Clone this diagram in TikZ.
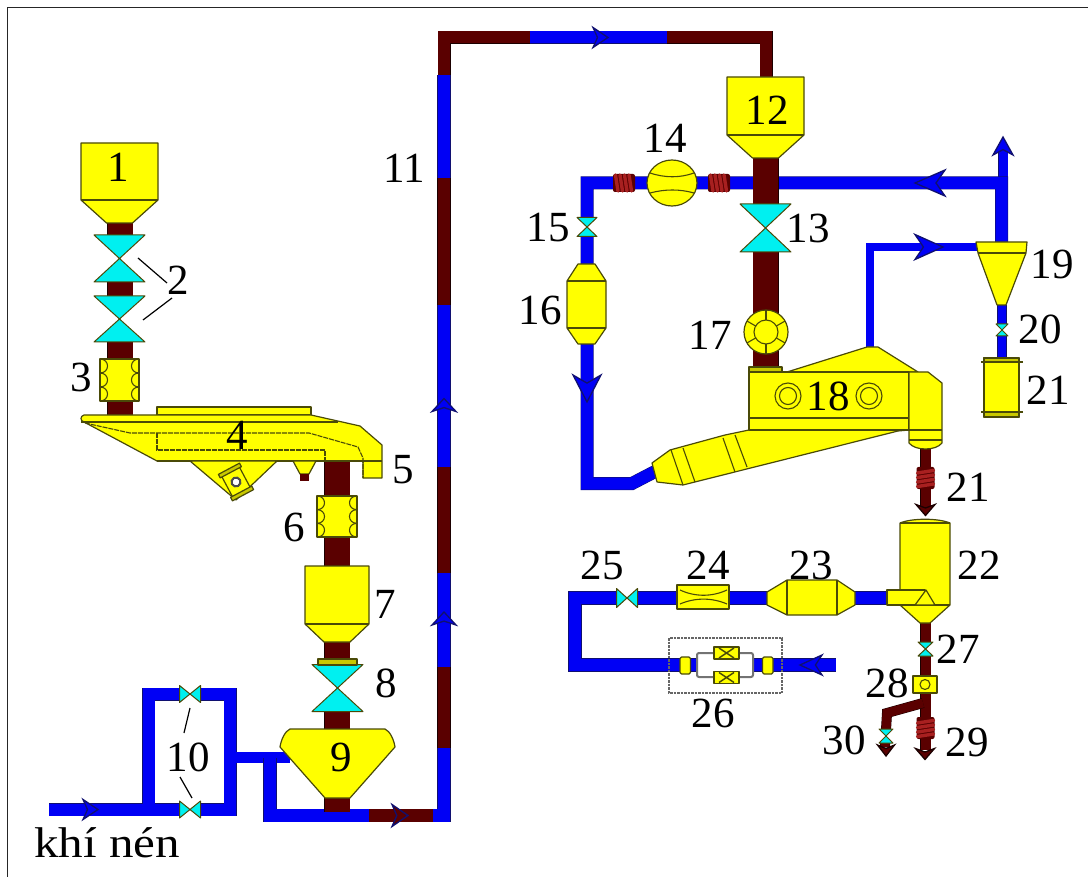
\documentclass[tikz,border=0pt]{standalone}
\usepackage{fontspec}
\setmainfont{Liberation Serif}
\newfontfamily\widefont[FakeStretch=1.14]{Liberation Serif}
\definecolor{eqfill}{HTML}{FFFF00}
\definecolor{eqedge}{HTML}{4A4A08}
\definecolor{eqband}{HTML}{C8C800}
\definecolor{valvefill}{HTML}{00F0F0}
\definecolor{airblue}{HTML}{0000F5}
\definecolor{airedge}{HTML}{101070}
\definecolor{feedred}{HTML}{5A0000}
\definecolor{coilred}{HTML}{A82020}
\tikzset{
  airline/.style={draw=airedge,double=airblue,double distance=#1,line width=.5pt},
  feedline/.style={draw=black!70!feedred,double=feedred,double distance=#1,line width=.5pt},
  equip/.style={draw=eqedge,fill=eqfill,line width=1.2pt,line join=round},
  equipline/.style={draw=eqedge,line width=1.1pt},
  valveshape/.style={draw=eqedge,fill=valvefill,line width=1pt,line join=round},
  flowshape/.style={draw=airedge,line width=1.3pt,line join=miter},
  leader/.style={draw=black,line width=1.2pt},
  numlabel/.style={inner sep=0pt,font=\fontsize{43}{46}\selectfont}
}
% hopper: left, right, top, band, bottom, neck half width
\newcommand{\hopperbox}[6]{
  \draw[equip] (#1,#3) -- (#2,#3) -- (#2,#4) -- ({(#1+#2)/2+#6},#5) -- ({(#1+#2)/2-#6},#5) -- (#1,#4) -- cycle;
  \draw[equipline] (#1,#4) -- (#2,#4);
}
% valves: x, y, half width, half height
\newcommand{\gatevalve}[4]{
  \fill[white] (#1-#3,#2-#4) rectangle (#1+#3,#2+#4);
  \draw[valveshape] (#1-#3,#2-#4) -- (#1+#3,#2-#4) -- (#1-#3,#2+#4) -- (#1+#3,#2+#4) -- cycle;
}
\newcommand{\bowvalve}[4]{
  \fill[white] (#1-#3,#2-#4) rectangle (#1+#3,#2+#4);
  \draw[valveshape] (#1-#3,#2-#4) -- (#1-#3,#2+#4) -- (#1+#3,#2-#4) -- (#1+#3,#2+#4) -- cycle;
}
% flexible joint: left, right, top, bottom
\newcommand{\flexjoint}[4]{
  \draw[equip] (#1,#3) rectangle (#2,#4);
  \pgfmathsetmacro\scallop{(#4-#3)/3}
  \foreach \k in {0,1,2}{
    \draw[equipline] (#1,#3+\k*\scallop) .. controls (#1+10,#3+\k*\scallop) and (#1+10,#3+\k*\scallop+\scallop) .. (#1,#3+\k*\scallop+\scallop);
    \draw[equipline] (#2,#3+\k*\scallop) .. controls (#2-10,#3+\k*\scallop) and (#2-10,#3+\k*\scallop+\scallop) .. (#2,#3+\k*\scallop+\scallop);
  }
}
% coil on a pipe: x, y, angle
\newcommand{\coilmark}[3]{
  \begin{scope}[shift={(#1,#2)},rotate=#3]
    \fill[feedred,rounded corners=2pt] (-11,-9) rectangle (11,9);
    \foreach \k in {-8.5,-4,0.5,5}
      \draw[coilred,line width=3.4pt,line cap=round] (\k,-8) -- (\k+2.5,8);
  \end{scope}
}
\begin{document}
\begin{tikzpicture}[x=1pt,y=-1pt]
\useasboundingbox (0,0) rectangle (1088,877);
% junction points of the pipe runs
\foreach \name/\x/\y in {
  feedA/120/220, feedB/120/415, feedC/337/455, feedD/337/570, feedE/337/640, feedF/337/812,
  inlet/49/809.5, loopA/230/809.5, loopB/230/694, loopC/148.5/694, loopD/148.5/809.5,
  sideA/230/757.5, sideB/290/757.5, liftA/270/757.5, liftB/270/815.5, liftC/369/815.5,
  liftD/433/815.5, liftE/444/815.5, liftF/444/748, liftG/444/667, liftH/444/573,
  liftI/444/467, liftJ/444/305, liftK/444/178, liftL/444/75, liftM/444/37.5,
  liftN/530/37.5, liftO/667/37.5, liftP/766/37.5, liftQ/766/80,
  backA/1001.5/242, backB/1001.5/183, backC/587/183, backD/587/483.5, backE/632/483.5, backF/656/471,
  ventA/1003/185, ventB/1003/150, millA/765.5/155, millB/765.5/367,
  gasA/870/347, gasB/870/247, gasC/977/247, dropA/1002/305, dropB/1002/358,
  oreA/925.5/448, oreB/925.5/507, prodA/925.5/620, prodB/925.5/750,
  forkA/923/703, forkB/887/713, forkC/885/747,
  exitA/887/598, exitB/575/598, exitC/575/665, exitD/697/665, exitE/753/665, exitF/836/665,
  leadA/138/258, leadB/167/283, leadC/172/298, leadD/143/320,
  leadE/190/708, leadF/184/733, leadG/180/777, leadH/192/798
}
  \coordinate (\name) at (\x,\y);
% sheet edge
\draw[black!85,line width=1.2pt] (7.5,877) -- (7.5,7.5) -- (1088,7.5);
% compressed air and lift pipe
\draw[airline=12pt] (inlet) -- (loopA) -- (loopB) -- (loopC) -- (loopD);
\draw[airline=10.5pt] (sideA) -- (sideB);
\draw[airline=12.5pt] (liftA) -- (liftB) -- (liftC);
\draw[feedline=12.5pt] (liftC) -- (liftD);
\draw[airline=12.5pt] (liftD) -- (liftE) -- (liftF);
\draw[feedline=12.5pt] (liftF) -- (liftG);
\draw[airline=12.5pt] (liftG) -- (liftH);
\draw[feedline=12.5pt] (liftH) -- (liftI);
\draw[airline=12.5pt] (liftI) -- (liftJ);
\draw[feedline=12.5pt] (liftJ) -- (liftK);
\draw[airline=12.5pt] (liftK) -- (liftL);
\draw[feedline=12pt] (liftL) -- (liftM) -- (liftN);
\draw[airline=12pt] (liftN) -- (liftO);
\draw[feedline=12pt] (liftO) -- (liftP) -- (liftQ);
% return gas loop
\draw[airline=9pt] (ventA) -- (ventB);
\draw[airline=12pt] (backA) -- (backB) -- (backC) -- (backD) -- (backE) -- (backF);
\draw[airline=7.5pt] (gasA) -- (gasB) -- (gasC);
\draw[airline=8.5pt] (dropA) -- (dropB);
\draw[airline=12.5pt] (exitA) -- (exitB) -- (exitC) -- (exitD);
\draw[airline=12.5pt] (exitE) -- (exitF);
% solids pipes
\draw[feedline=25pt] (feedA) -- (feedB);
\draw[feedline=25pt] (feedC) -- (feedD);
\draw[feedline=25pt] (feedE) -- (feedF);
\draw[feedline=25pt] (millA) -- (millB);
\draw[feedline=10pt] (oreA) -- (oreB);
\draw[feedline=10pt] (prodA) -- (prodB);
\draw[feedline=9pt] (forkA) -- (forkB) -- (forkC);
% hoppers
\hopperbox{81}{158}{143}{200}{223}{13}
\node[numlabel] (hopperTop) at (118,167) {1};
\hopperbox{305}{369}{566}{624}{642}{13}
\hopperbox{727}{804}{77}{135}{158}{13}
% valves
\gatevalve{119.5}{258.5}{25.5}{23.5}
\gatevalve{119.5}{319}{25.5}{23}
\gatevalve{337.5}{688}{25.5}{23.5}
\gatevalve{765.5}{228}{25.5}{24}
\draw[equip,fill=eqband] (318,659) rectangle (357,665);
\bowvalve{190}{694}{10.5}{8.5}
\bowvalve{190}{809.5}{10.5}{8.5}
\gatevalve{587}{227}{10}{9.5}
\gatevalve{1002}{330}{6}{6}
\bowvalve{627}{598}{10.5}{9.5}
\gatevalve{925.5}{649}{7.5}{7}
\gatevalve{886}{736}{7}{7}
% flexible joints
\flexjoint{100}{139}{359}{401}
\flexjoint{317}{357}{496}{537}
% screen
\draw[equip] (157,407) rectangle (311,415);
\draw[equip] (84,415) -- (311,415) -- (360,426) -- (382,445) -- (382,478) -- (363,478) -- (363,461) -- (157,461) -- (84,422) .. controls (80,421) and (80,416) .. (84,415) -- cycle;
\draw[equipline] (81,422) -- (338,422);
\draw[equipline] (157,461) -- (382,461);
\draw[equipline,dash pattern=on 5pt off 1pt] (85,423) -- (130,433) -- (309,433) -- (358,447) -- (363,458) -- (363,478);
\draw[equipline,dash pattern=on 5pt off 1pt] (157,433) -- (157,450) -- (325,450) -- (325,461);
\draw[equip] (190,461) -- (277,461) -- (236,500) -- cycle;
\draw[equip] (293,461) -- (316,461) -- (309,474) -- (300,474) -- cycle;
\fill[feedred] (299.5,474) rectangle (308.5,481);
\begin{scope}[shift={(236,482)},rotate=28]
  \draw[equip] (-10,-12) rectangle (10,12);
  \draw[equip,fill=eqband] (-12,-15) rectangle (12,-11);
  \draw[equip,fill=eqband] (-12,11) rectangle (12,15);
  \draw[draw=black!70,fill=white,line width=2pt] (0,0) circle[radius=4.5];
\end{scope}
% hopper under the valve
\draw[equip] (290,729) -- (385,729) .. controls (390,731) and (394,740) .. (395,747) -- (350,798) -- (325,798) -- (280,747) .. controls (281,740) and (285,731) .. (290,729) -- cycle;
% blower and coils
\coilmark{624}{183}{0}
\coilmark{719}{183}{0}
\draw[equip] (672,183) ellipse[x radius=25,y radius=23];
\draw[equipline] (650,173) .. controls (665,178) and (680,178) .. (694,173);
\draw[equipline] (650,193) .. controls (665,189) and (680,189) .. (694,193);
% filter
\draw[equip] (578,264) -- (595,264) -- (606,281) -- (606,328) -- (595,344) -- (578,344) -- (567,328) -- (567,281) -- cycle;
\draw[equipline] (567,281) -- (606,281);
\draw[equipline] (567,328) -- (606,328);
% rotary feeder
\draw[equip] (766,332) circle[radius=22];
\draw[equipline] (766,332) circle[radius=12];
\foreach \a in {30,90,150,210,270,330}
  \draw[equipline] (766,332) ++(\a:12) -- ++(\a:10);
% kiln
\draw[equip] (749,430) -- (725,435) -- (670,450) -- (652,463) -- (657,482) -- (683,485) -- (898,431) -- (909,430) -- cycle;
\draw[equipline] (671,450) -- (683,485);
\draw[equipline] (683,448) -- (695,482);
\draw[equipline] (723,438) -- (735,472);
\draw[equipline] (735,435) -- (747,467);
\draw[equip] (787,372) -- (867,347) -- (878,347) -- (918,372) -- cycle;
\draw[equip] (749,372) rectangle (909,430);
\draw[equip,fill=eqband] (749,367) rectangle (782,372);
\draw[equipline] (749,418) -- (909,418);
\draw[equip] (909,372) -- (928,372) -- (942,383) -- (942,443) .. controls (936,451) and (915,451) .. (909,443) -- cycle;
\draw[equipline] (909,430) -- (942,430);
\draw[equipline] (909,440) -- (942,440);
\foreach \x in {788,869}{
  \draw[equipline] (\x,396) circle[radius=13];
  \draw[equipline] (\x,396) circle[radius=8.5];
}
% cyclone and bin
\draw[equip] (976,242) -- (1027,242) -- (1026,253) -- (1006,305) -- (997,305) -- (978,253) -- cycle;
\draw[equipline] (978,253) -- (1026,253);
\draw[equip] (984,358) rectangle (1019,417);
\draw[equip,fill=eqband] (984,358) rectangle (1019,362);
\draw[equip,fill=eqband] (984,412) rectangle (1019,417);
\draw[equipline] (981,362) -- (1023,362);
\draw[equipline] (981,412) -- (1023,412);
% coils on the solids line
\coilmark{925.5}{478}{90}
\coilmark{925.5}{728}{90}
% separator
\draw[equip] (900,523) .. controls (912,518) and (938,518) .. (950,523) -- (950,605) -- (930,623) -- (920,623) -- (900,605) -- cycle;
\draw[equipline] (900,523) -- (950,523);
\draw[equipline] (900,605) -- (950,605);
\draw[equip] (887,590) rectangle (925,605);
\draw[equip] (915,605) -- (926,590) -- (935,605) -- cycle;
% washer, venturi
\draw[equip] (767,592) -- (787,580) -- (837,580) -- (855,592) -- (855,605) -- (837,615) -- (787,615) -- (767,605) -- cycle;
\draw[equipline] (787,580) -- (787,615);
\draw[equipline] (837,580) -- (837,615);
\draw[equip] (677,585) rectangle (729,609);
\draw[equipline] (680,590) .. controls (695,597) and (712,597) .. (727,590);
\draw[equipline] (680,604) .. controls (695,597.5) and (712,597.5) .. (727,604);
% twin valve station
\draw[black!60,line width=1.1pt,dash pattern=on 2.5pt off 1pt] (669,638) rectangle (782,693);
\draw[black!55,line width=2pt,rounded corners=2pt] (697,653) rectangle (753,677);
\foreach \y in {653,677.5}{
  \draw[equip,line width=1.8pt] (714,\y-6) rectangle (739,\y+6);
  \draw[eqedge,line width=1.4pt] (719,\y-5) -- (734,\y+5) (719,\y+5) -- (734,\y-5);
}
\foreach \x in {680,762.5}
  \draw[equip,rounded corners=1.5pt] (\x,657) rectangle (\x+10.5,674);
% box on the product line
\draw[equip] (913,676) rectangle (937,693);
\draw[equipline] (925,684.5) circle[radius=5];
% flow marks along the pipes
\foreach \x/\y/\a/\l/\w/\markfill in {
  600.5/37.5/0/7.5/10/airblue, 444/618.5/90/6.5/12/airblue, 444/405/90/6.5/12/airblue,
  400/815.5/0/8/11/feedred, 90.5/809.5/0/7.5/10/airblue, 930/183/180/15/13/airblue,
  587/388.5/-90/13.5/14/airblue, 929/247/0/14/12.5/airblue, 811/665/180/11/10/airblue,
  1003/146/90/9/10/airblue}{
  \begin{scope}[shift={(\x,\y)},rotate=\a]
    \filldraw[flowshape,fill=\markfill] (-\l,-\w) -- (\l,0) -- (-\l,\w) -- (-0.4*\l,0) -- cycle;
  \end{scope}
}
% pipe ends on the solids line
\foreach \x/\y/\w in {925.5/510/9.5, 925/754/9.5, 886/750.5/8.5}{
  \begin{scope}[shift={(\x,\y)},rotate=-90]
    \filldraw[flowshape,draw=black!70!feedred,fill=feedred] (-5.5,-\w) -- (5.5,0) -- (-5.5,\w) -- (-2,0) -- cycle;
  \end{scope}
}
% leaders
\draw[leader] (leadA) -- (leadB);
\draw[leader] (leadC) -- (leadD);
\draw[leader] (leadE) -- (leadF);
\draw[leader] (leadG) -- (leadH);
% numbers
\foreach \n/\t/\x/\y in {
  a/2/178/280, b/3/81/377, c/4/237/435, d/5/403/470, e/6/294/527, f/7/385/604, g/8/386/683,
  h/9/341/757, i/10/188/757, j/11/404/168, k/12/767/110, l/13/808/228, m/14/665/138,
  n/15/548/228, o/16/540/310, p/17/710/335, q/18/828/396, r/19/1052/264, s/20/1040/329,
  t/21/1048/390, u/21/968/487, v/22/979/565, w/23/811/565, x/24/708/565, y/25/602/565,
  z/26/713/713, aa/27/958/649, ab/28/887/683, ac/29/967/742, ad/30/844/740
}
  \node[numlabel] (lab\n) at (\x,\y) {\t};
\node[numlabel] (labair) at (107,843) {\widefont khí nén};
\end{tikzpicture}
\end{document}
